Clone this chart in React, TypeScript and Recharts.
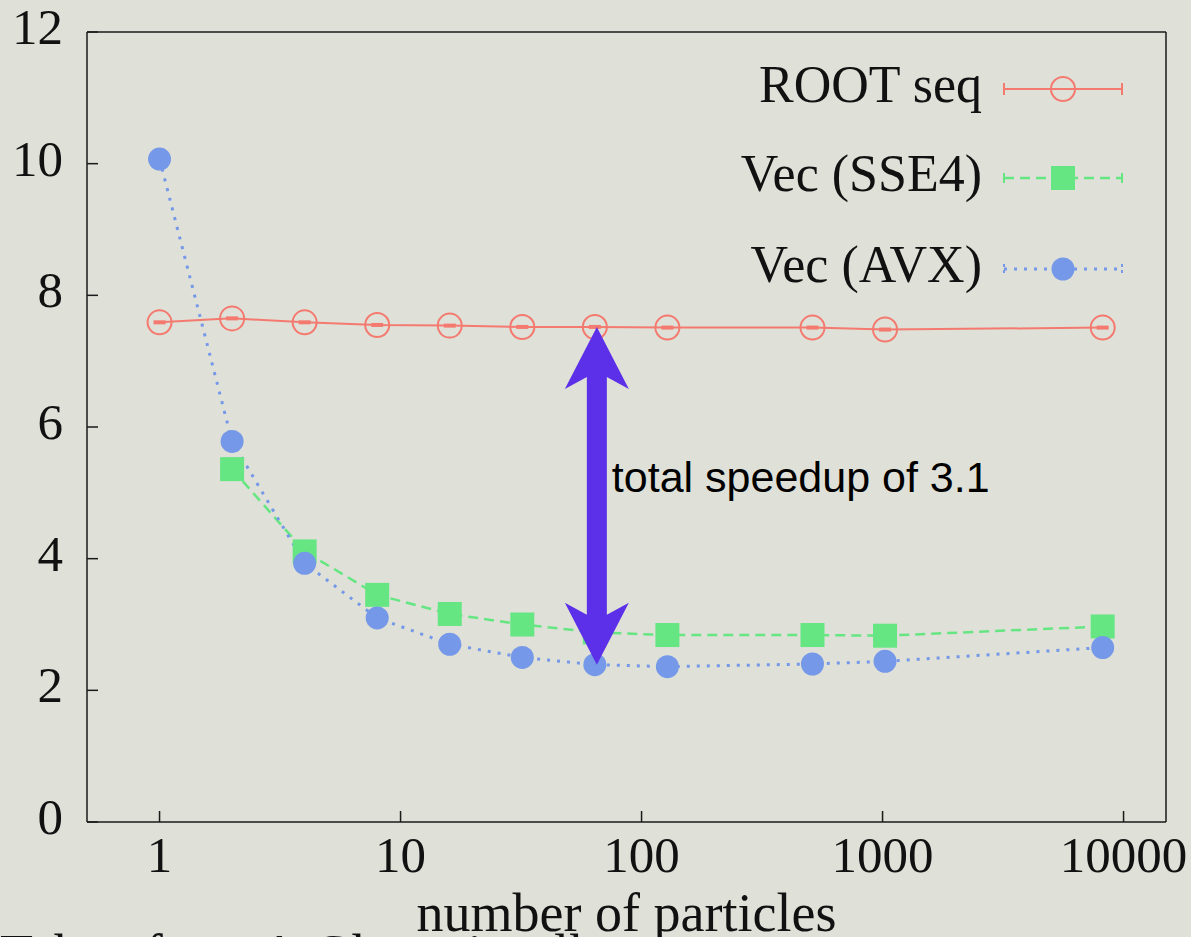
import React from "react"
import {
  LineChart,
  Line,
  XAxis,
  YAxis,
  ReferenceLine,
  Customized,
} from "recharts"

// number of particles (log x)
const particles = [1, 2, 4, 8, 16, 32, 64, 128, 512, 1024, 8192]
const rootSeq = [7.59, 7.65, 7.59, 7.55, 7.54, 7.52, 7.52, 7.51, 7.51, 7.48, 7.51]
const vecSSE4 = [null, 5.36, 4.11, 3.45, 3.16, 3.0, 2.88, 2.84, 2.84, 2.83, 2.97]
const vecAVX = [10.07, 5.78, 3.93, 3.1, 2.7, 2.5, 2.39, 2.36, 2.4, 2.44, 2.65]

const xTicks = [1, 10, 100, 1000, 10000]
const xMinorTicks = [0.8, 2, 5, 8, 20, 50, 80, 200, 500, 800, 2000, 5000, 8000]
const yTicks = [0, 2, 4, 6, 8, 10, 12]

const data = particles.map((n, i) => ({
  n,
  root: rootSeq[i],
  sse4: vecSSE4[i],
  avx: vecAVX[i],
}))

const RED = "#f47a70"
const GREEN = "#66e682"
const BLUE = "#7598e8"
const PURPLE = "#5c2fe8"
const AXIS = "#1a1a1a"
const SERIF = "'Liberation Serif', 'DejaVu Serif', serif"
const SANS = "'Liberation Sans', Arial, sans-serif"

const XTick = ({ x, y, payload }: any) => (
  <text x={x} y={y + 36} textAnchor="middle" fontSize={51} fontFamily={SERIF} fill="#111">
    {payload.value}
  </text>
)

const YTick = ({ x, y, payload }: any) => (
  <text x={x} y={y + 12} textAnchor="end" fontSize={51} fontFamily={SERIF} fill="#111">
    {payload.value}
  </text>
)

const RootDot = (p: any) => {
  if (p.cx == null || p.cy == null) return <g key={p.index} />
  return (
    <g key={p.index}>
      <circle cx={p.cx} cy={p.cy} r={12} fill="none" stroke={RED} strokeWidth={2} />
      <rect x={p.cx - 6} y={p.cy - 2} width={12} height={4} fill={RED} />
    </g>
  )
}

const SquareDot = (p: any) => {
  if (p.cx == null || p.cy == null) return <g key={p.index} />
  return <rect key={p.index} x={p.cx - 12} y={p.cy - 12} width={24} height={24} fill={GREEN} />
}

const CircleDot = (p: any) => {
  if (p.cx == null || p.cy == null) return <g key={p.index} />
  return <circle key={p.index} cx={p.cx} cy={p.cy} r={11.5} fill={BLUE} />
}

const SpeedupArrow = (props: any) => {
  const { x1, y1, x2, y2 } = props
  const cx = (x1 + x2) / 2 + 2
  const yt = Math.min(y1, y2)
  const yb = Math.max(y1, y2)
  const pts = [
    [cx, yt],
    [cx + 32, yt + 62],
    [cx + 10, yt + 50],
    [cx + 10, yb - 50],
    [cx + 32, yb - 62],
    [cx, yb],
    [cx - 32, yb - 62],
    [cx - 10, yb - 50],
    [cx - 10, yt + 50],
    [cx - 32, yt + 62],
  ]
  return (
    <g>
      <polygon points={pts.map((p) => p.join(",")).join(" ")} fill={PURPLE} />
      <text x={cx + 15} y={(yt + yb) / 2 - 4} fontSize={43} fontFamily={SANS} fill="#000">
        total speedup of 3.1
      </text>
    </g>
  )
}

const LegendBox = () => {
  const x0 = 1004
  const x1 = 1122
  const mx = 1063
  const tx = 982
  return (
    <g>
      <text x={tx} y={102} textAnchor="end" fontSize={52} fontFamily={SERIF} fill="#111">ROOT seq</text>
      <line x1={x0} y1={89} x2={x1} y2={89} stroke={RED} strokeWidth={2} />
      <line x1={x0} y1={83} x2={x0} y2={95} stroke={RED} strokeWidth={2} />
      <line x1={x1} y1={83} x2={x1} y2={95} stroke={RED} strokeWidth={2} />
      <circle cx={mx} cy={89} r={12} fill="none" stroke={RED} strokeWidth={2} />

      <text x={tx} y={191} textAnchor="end" fontSize={52} fontFamily={SERIF} fill="#111">Vec (SSE4)</text>
      <line x1={x0} y1={178} x2={x1} y2={178} stroke={GREEN} strokeWidth={2.5} strokeDasharray="10 6" />
      <line x1={x0} y1={173} x2={x0} y2={183} stroke={GREEN} strokeWidth={2} />
      <line x1={x1} y1={173} x2={x1} y2={183} stroke={GREEN} strokeWidth={2} />
      <rect x={mx - 12} y={166} width={24} height={24} fill={GREEN} />

      <text x={tx} y={282} textAnchor="end" fontSize={52} fontFamily={SERIF} fill="#111">Vec (AVX)</text>
      <line x1={x0} y1={269} x2={x1} y2={269} stroke={BLUE} strokeWidth={3} strokeDasharray="3 7" />
      <line x1={x0} y1={264} x2={x0} y2={274} stroke={BLUE} strokeWidth={2} strokeDasharray="3 3" />
      <line x1={x1} y1={264} x2={x1} y2={274} stroke={BLUE} strokeWidth={2} strokeDasharray="3 3" />
      <circle cx={mx} cy={269} r={11.5} fill={BLUE} />

      <text x={0} y={972} fontSize={54} fontFamily={SERIF} fill="#111">Taken from A.Gheata’s talk</text>
    </g>
  )
}

const logX = {
  dataKey: "n",
  type: "number" as const,
  scale: "log" as const,
  domain: [0.5, 15000],
  allowDataOverflow: true,
}

export default function App() {
  return (
    <div style={{ position: "absolute", left: 0, top: 0, width: 1191, height: 937, background: "#dfe0d8", overflow: "hidden" }}>
      <LineChart width={1191} height={937} data={data} margin={{ top: 32, right: 25, bottom: 0, left: 0 }}>
        <XAxis
          xAxisId="main"
          {...logX}
          ticks={xTicks}
          height={115}
          tickSize={-11}
          tickMargin={25}
          tick={<XTick />}
          stroke={AXIS}
          strokeWidth={1.5}
          label={{
            value: "number of particles",
            position: "insideBottom",
            offset: 6,
            fontSize: 54,
            fontFamily: SERIF,
            fill: "#111",
          }}
        />
        <XAxis
          xAxisId="minor"
          {...logX}
          ticks={xMinorTicks}
          mirror
          height={30}
          tickSize={5}
          tick={false}
          axisLine={false}
          stroke={AXIS}
          strokeWidth={1.5}
        />
        <XAxis
          xAxisId="top"
          orientation="top"
          {...logX}
          ticks={xTicks}
          mirror
          height={30}
          tickSize={11}
          tick={false}
          stroke={AXIS}
          strokeWidth={1.5}
        />
        <XAxis
          xAxisId="topMinor"
          orientation="top"
          {...logX}
          ticks={xMinorTicks}
          mirror
          height={30}
          tickSize={5}
          tick={false}
          axisLine={false}
          stroke={AXIS}
          strokeWidth={1.5}
        />
        <YAxis
          yAxisId="main"
          type="number"
          domain={[0, 12]}
          ticks={yTicks}
          width={87}
          tickSize={-11}
          tickMargin={35}
          tick={<YTick />}
          stroke={AXIS}
          strokeWidth={1.5}
        />
        <YAxis
          yAxisId="right"
          orientation="right"
          type="number"
          domain={[0, 12]}
          ticks={yTicks}
          mirror
          width={30}
          tickSize={11}
          tick={false}
          stroke={AXIS}
          strokeWidth={1.5}
        />
        <Line
          xAxisId="main"
          yAxisId="main"
          dataKey="root"
          stroke={RED}
          strokeWidth={2}
          dot={RootDot}
          isAnimationActive={false}
        />
        <Line
          xAxisId="main"
          yAxisId="main"
          dataKey="sse4"
          stroke={GREEN}
          strokeWidth={2.5}
          strokeDasharray="10 6"
          dot={SquareDot}
          connectNulls
          isAnimationActive={false}
        />
        <Line
          xAxisId="main"
          yAxisId="main"
          dataKey="avx"
          stroke={BLUE}
          strokeWidth={3}
          strokeDasharray="3 7"
          dot={CircleDot}
          isAnimationActive={false}
        />
        <ReferenceLine
          xAxisId="main"
          yAxisId="main"
          segment={[
            { x: particles[6], y: rootSeq[6] },
            { x: particles[6], y: vecAVX[6] },
          ]}
          shape={SpeedupArrow}
          zIndex={1000}
        />
        <Customized component={LegendBox} />
      </LineChart>
    </div>
  )
}
